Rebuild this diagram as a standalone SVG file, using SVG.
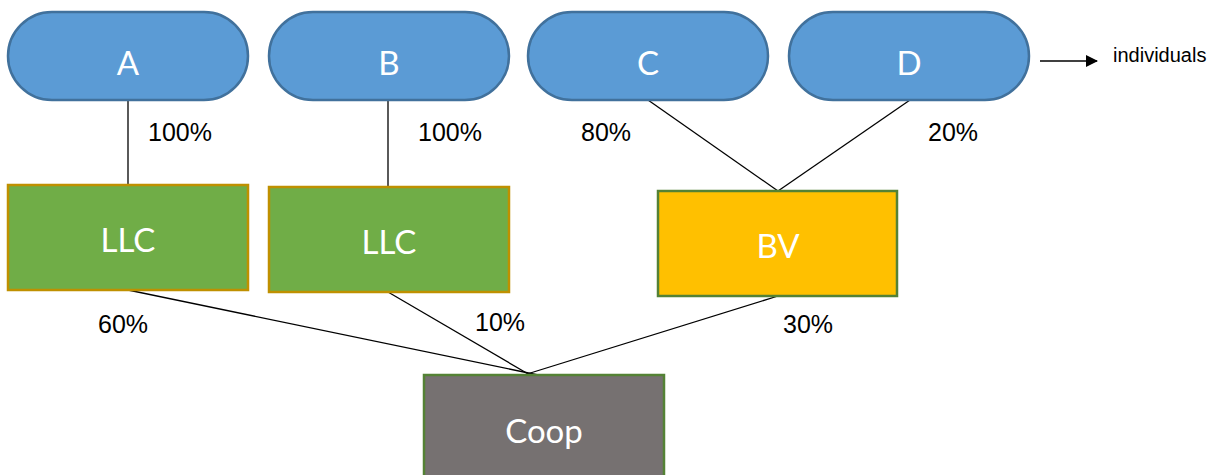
<svg xmlns="http://www.w3.org/2000/svg" width="1223" height="475" viewBox="0 0 1223 475">
<style>
.pill{fill:#5b9bd5;stroke:#41719c;stroke-width:2.5}
.llc{fill:#70ad47;stroke:#bf9000;stroke-width:2.5}
.bv{fill:#ffc000;stroke:#548235;stroke-width:2.5}
.coop{fill:#767171;stroke:#548235;stroke-width:2.5}
.lbl{font-family:Lato,"Open Sans",sans-serif;font-size:33px;fill:#fff;text-anchor:middle;dominant-baseline:central}
.pct{font-family:"Liberation Sans",Arial,sans-serif;font-size:25px;fill:#000}
.conn line{stroke:#000;stroke-width:1.3}
</style>
<defs>
<marker id="arr" markerWidth="12" markerHeight="12" refX="11" refY="6" orient="auto" markerUnits="userSpaceOnUse">
<path d="M0,0 L12,6 L0,12 z" fill="#000"/>
</marker>
</defs>
<g class="conn">
<line x1="128" y1="100" x2="128" y2="185"/>
<line x1="388" y1="100" x2="388" y2="187"/>
<line x1="648" y1="100" x2="778" y2="191"/>
<line x1="910" y1="100" x2="778" y2="191"/>
<line x1="128" y1="290" x2="543" y2="376"/>
<line x1="388" y1="292" x2="530" y2="375"/>
<line x1="778" y1="296" x2="511" y2="379"/>
<line x1="1040" y1="61" x2="1097" y2="61" marker-end="url(#arr)"/>
</g>
<g id="A"><rect class="pill" x="8" y="12" width="240" height="88" rx="44"/><text class="lbl" x="128" y="62">A</text></g>
<g id="B"><rect class="pill" x="269" y="12" width="240" height="88" rx="44"/><text class="lbl" x="389" y="62">B</text></g>
<g id="C"><rect class="pill" x="528" y="12" width="240" height="88" rx="44"/><text class="lbl" x="648" y="62">C</text></g>
<g id="D"><rect class="pill" x="789" y="12" width="240" height="88" rx="44"/><text class="lbl" x="909" y="62">D</text></g>
<g id="LLC1"><rect class="llc" x="8" y="185" width="240" height="105"/><text class="lbl" x="128" y="239">LLC</text></g>
<g id="LLC2"><rect class="llc" x="269" y="187" width="240" height="105"/><text class="lbl" x="389" y="241">LLC</text></g>
<g id="BV"><rect class="bv" x="658" y="191" width="239" height="105"/><text class="lbl" x="778" y="245">BV</text></g>
<g id="Coop"><rect class="coop" x="424" y="375" width="240" height="110"/><text class="lbl" x="544" y="430">Coop</text></g>
<g id="labels">
<text class="pct" x="148" y="141">100%</text>
<text class="pct" x="418" y="141">100%</text>
<text class="pct" x="581" y="141">80%</text>
<text class="pct" x="928" y="141">20%</text>
<text class="pct" x="98" y="333">60%</text>
<text class="pct" x="475" y="331">10%</text>
<text class="pct" x="783" y="333">30%</text>
<text x="1113" y="55" font-family="Liberation Sans, Arial, sans-serif" font-size="20" dominant-baseline="central">individuals</text>
</g>
</svg>
